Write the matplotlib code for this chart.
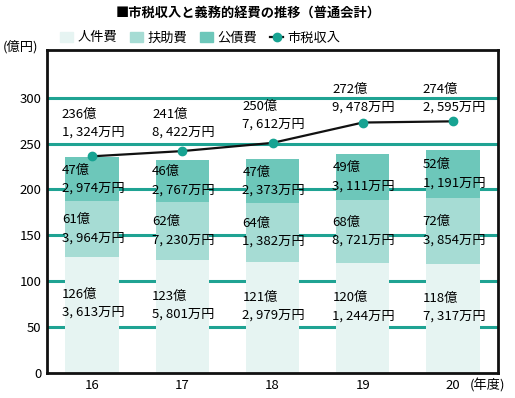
import matplotlib
matplotlib.use("Agg")
import matplotlib.pyplot as plt
from matplotlib.lines import Line2D
from matplotlib.patches import Patch

plt.rcParams['font.family'] = ['Noto Sans CJK JP', 'DejaVu Sans']

years = ['16', '17', '18', '19', '20']
personnel = [126.3613, 123.5801, 121.2979, 120.1244, 118.7317]
assistance = [61.3964, 62.7230, 64.1382, 68.8721, 72.3854]
debt = [47.2974, 46.2767, 47.2373, 49.3111, 52.1191]
tax = [236.1324, 241.8422, 250.7612, 272.9478, 274.2595]

personnel_lbl = ['126億\n3, 613万円', '123億\n5, 801万円', '121億\n2, 979万円', '120億\n1, 244万円', '118億\n7, 317万円']
assistance_lbl = ['61億\n3, 964万円', '62億\n7, 230万円', '64億\n1, 382万円', '68億\n8, 721万円', '72億\n3, 854万円']
debt_lbl = ['47億\n2, 974万円', '46億\n2, 767万円', '47億\n2, 373万円', '49億\n3, 111万円', '52億\n1, 191万円']
tax_lbl = ['236億\n1, 324万円', '241億\n8, 422万円', '250億\n7, 612万円', '272億\n9, 478万円', '274億\n2, 595万円']

c_pers = '#e6f4f2'
c_assi = '#a6dcd4'
c_debt = '#6dc7ba'
c_grid = '#1fa393'
c_mark = '#17a392'

fig = plt.figure(figsize=(5.15, 3.98), dpi=100)
ax = fig.add_axes([47/515, (398-373)/398, (498-47)/515, (373-50)/398])

x = list(range(len(years)))
w = 0.59
ax.set_xlim(-0.5, 4.5)
ax.set_ylim(0, 352)

for yv in [50, 100, 150, 200, 250, 300]:
    ax.axhline(yv, color=c_grid, lw=2.2, zorder=1)

ax.bar(x, personnel, w, color=c_pers, zorder=2)
ax.bar(x, assistance, w, bottom=personnel, color=c_assi, zorder=2)
bottom3 = [a + b for a, b in zip(personnel, assistance)]
ax.bar(x, debt, w, bottom=bottom3, color=c_debt, zorder=2)

ax.plot(x, tax, color='#111111', lw=1.6, zorder=4)
ax.plot(x, tax, 'o', color=c_mark, ms=6, zorder=5)

fs = 9.5
ls = 1.5
for i in x:
    xl = i - w / 2 - 0.04
    ax.text(xl, personnel[i] * 0.6, personnel_lbl[i], fontsize=fs, ha='left', va='center',
            linespacing=ls, zorder=6)
    ax.text(xl, personnel[i] + assistance[i] / 2, assistance_lbl[i], fontsize=fs, ha='left',
            va='center', linespacing=ls, zorder=6)
    ax.text(xl, bottom3[i] + debt[i] / 2, debt_lbl[i], fontsize=fs, ha='left', va='center',
            linespacing=ls, zorder=6)
    ty = min(max(tax[i] + 19, 261), 288) + 11
    ax.text(xl, ty, tax_lbl[i], fontsize=fs, ha='left', va='center', linespacing=ls, zorder=6)

ax.set_yticks([0, 50, 100, 150, 200, 250, 300])
ax.set_xticks(x)
ax.set_xticklabels(years)
ax.tick_params(axis='both', length=0, labelsize=9.5, pad=4)
for s in ax.spines.values():
    s.set_linewidth(2)
    s.set_color('#111111')

fig.text(248/515, 1 - 13/398, '■市税収入と義務的経費の推移（普通会計）', ha='center', va='center',
         fontsize=9.5, fontweight='bold')
fig.text(3/515, 1 - 47/398, '(億円)', ha='left', va='center', fontsize=9.5)
fig.text(470/515, 1 - 385/398, '(年度)', ha='left', va='center', fontsize=9.5)

handles = [Patch(color=c_pers), Patch(color=c_assi), Patch(color=c_debt),
           Line2D([0], [0], color='#111111', lw=1.6, marker='o', markerfacecolor=c_mark,
                  markeredgecolor=c_mark, ms=6)]
labels = ['人件費', '扶助費', '公債費', '市税収入']
fig.legend(handles, labels, loc='center left', bbox_to_anchor=(60/515, 1 - 38/398), ncol=4,
           frameon=False, fontsize=9.5, handlelength=1.0, handleheight=0.8, handletextpad=0.3,
           columnspacing=1.0, borderpad=0, borderaxespad=0)

fig.savefig('out.png', dpi=100)
